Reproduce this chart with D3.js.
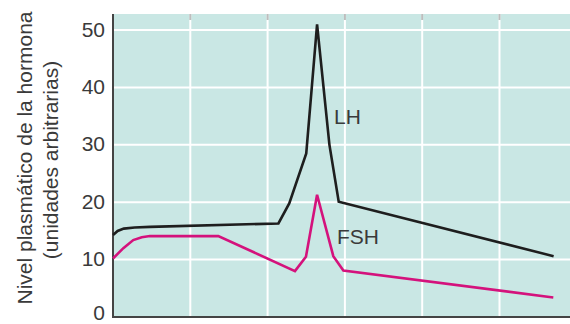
<!DOCTYPE html>
<html><head><meta charset="utf-8">
<script src="https://cdn.jsdelivr.net/npm/d3@7"></script>
<style>body{margin:0;background:#fff}svg{display:block}text{font-family:"Liberation Sans",Arial,sans-serif;fill:#3a3a3a}</style>
</head><body>
<script>
const lhDays = [0, 0.3, 0.7, 1.4, 2.4, 10.7, 11.4, 12.5, 13.2, 14.0, 14.6, 28.5];
const lhValues = [14.3, 15.0, 15.4, 15.6, 15.7, 16.3, 19.8, 28.5, 51.0, 30.0, 20.1, 10.6];
const fshDays = [0, 0.67, 1.31, 1.86, 2.39, 6.81, 11.77, 12.48, 13.2, 14.25, 14.9, 28.48];
const fshValues = [10.2, 12.0, 13.4, 13.9, 14.1, 14.1, 8.0, 10.5, 21.3, 10.6, 8.1, 3.4];
const yTicks = [0, 10, 20, 30, 40, 50];
const xGrid = [5, 10, 15, 20, 25];
const seriesLabels = ["LH", "FSH"];
const yTitle = ["Nivel plasmático de la hormona", "(unidades arbitrarias)"];

const W = 570, H = 324;
const svg = d3.select("body").append("svg").attr("width", W).attr("height", H);
const x = d3.scaleLinear().domain([0, 29.56]).range([113, 570]);
const y = d3.scaleLinear().domain([0, 52.8]).range([317, 14]);

svg.append("rect").attr("x", x(0)).attr("y", y(52.8)).attr("width", x(29.56) - x(0)).attr("height", y(0) - y(52.8)).attr("fill", "#c9e7e4");

svg.selectAll(".hg").data(yTicks.filter(d => d > 0)).enter().append("line")
  .attr("x1", x(0)).attr("x2", x(29.56)).attr("y1", d => y(d)).attr("y2", d => y(d))
  .attr("stroke", "#fff").attr("stroke-width", 2);
svg.selectAll(".vg").data(xGrid).enter().append("line")
  .attr("x1", d => x(d)).attr("x2", d => x(d)).attr("y1", y(52.8)).attr("y2", y(0))
  .attr("stroke", "#fff").attr("stroke-width", 2);
svg.selectAll(".vt").data(xGrid).enter().append("line")
  .attr("x1", d => x(d)).attr("x2", d => x(d)).attr("y1", y(52.8)).attr("y2", y(52.8) + 6)
  .attr("stroke", "#bdbdbd").attr("stroke-width", 2);

// axes lines
svg.append("line").attr("x1", x(0)).attr("x2", x(0)).attr("y1", y(52.8)).attr("y2", y(0) + 1)
  .attr("stroke", "#444").attr("stroke-width", 2);
svg.append("line").attr("x1", x(0) - 1).attr("x2", x(29.56)).attr("y1", y(0)).attr("y2", y(0))
  .attr("stroke", "#444").attr("stroke-width", 2);

const yAxis = d3.axisLeft(y).tickValues(yTicks).tickSize(0).tickPadding(8);
const ya = svg.append("g").attr("transform", `translate(${x(0)},0)`).call(yAxis);
ya.select(".domain").remove();
ya.selectAll("text").style("font-size", "21px").attr("fill", "#3a3a3a")
  .attr("dy", d => d === 0 ? "0.1em" : "0.29em");

const line = d3.line().x(d => x(d[0])).y(d => y(d[1]));
svg.append("path").datum(lhDays.map((d, i) => [d, lhValues[i]])).attr("d", line)
  .attr("fill", "none").attr("stroke", "#1e1e1e").attr("stroke-width", 2.6).attr("stroke-linejoin", "miter");
svg.append("path").datum(fshDays.map((d, i) => [d, fshValues[i]])).attr("d", line)
  .attr("fill", "none").attr("stroke", "#d4127c").attr("stroke-width", 2.6).attr("stroke-linejoin", "miter");

svg.append("text").attr("x", 334).attr("y", 124).style("font-size", "21px").text(seriesLabels[0]);
svg.append("text").attr("x", 337).attr("y", 244).style("font-size", "21px").text(seriesLabels[1]);

svg.append("text").attr("transform", "translate(32,158) rotate(-90)").attr("text-anchor", "middle")
  .style("font-size", "21px").text(yTitle[0]);
svg.append("text").attr("transform", "translate(58,160) rotate(-90)").attr("text-anchor", "middle")
  .style("font-size", "21px").text(yTitle[1]);
</script>
</body></html>
